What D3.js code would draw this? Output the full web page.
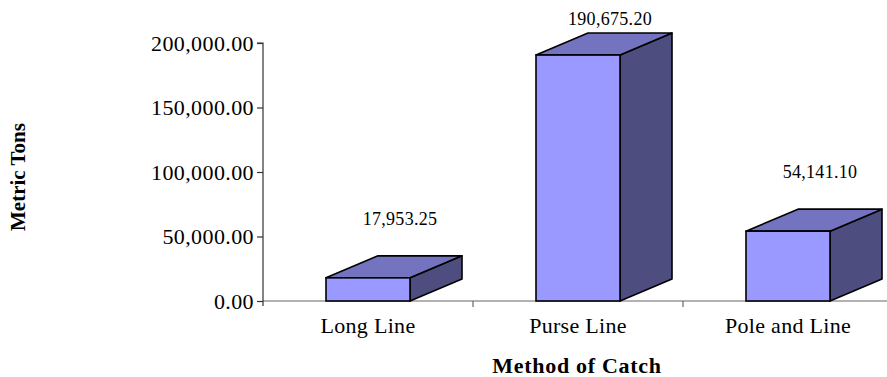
<!DOCTYPE html>
<html>
<head>
<meta charset="utf-8">
<script src="https://cdn.jsdelivr.net/npm/d3@7"></script>
<style>
  html, body { margin: 0; padding: 0; background: #fff; }
  svg { display: block; }
  text { font-family: "Liberation Serif", "Times New Roman", serif; fill: #000; }
</style>
</head>
<body>
<svg id="chart" width="887" height="377"></svg>
<script>
// Catch by method, metric tons
const categories = ["Long Line", "Purse Line", "Pole and Line"];
const catchTons = [17953.25, 190675.20, 54141.10];
const yTickValues = [0, 50000, 100000, 150000, 200000];

const W = 887, H = 377;
const svg = d3.select("#chart");

const x = d3.scaleBand().domain(categories).range([263, 893]).paddingInner(0).paddingOuter(0);
const y = d3.scaleLinear().domain([0, 200000]).range([301, 43]);
const fmt = d3.format(",.2f");

// 3D box geometry
const faceOff = x.bandwidth() * 0.3;
const faceW = x.bandwidth() * 0.4;
const dx = 52, dy = 22;

const colFront = "#9999ff", colTop = "#7373c0", colSide = "#4d4d80";

// Baseline across the plot
svg.append("line")
  .attr("x1", x.range()[0]).attr("x2", W)
  .attr("y1", y(0)).attr("y2", y(0))
  .attr("stroke", "#666").attr("stroke-width", 1.2);

// Category separators below the baseline
svg.append("g").selectAll("line")
  .data(categories)
  .join("line")
  .attr("x1", (d, i) => x(d) + x.bandwidth())
  .attr("x2", (d, i) => x(d) + x.bandwidth())
  .attr("y1", y(0)).attr("y2", y(0) + 6)
  .attr("stroke", "#666").attr("stroke-width", 1.2);

// Y axis
const yAxis = d3.axisLeft(y).tickValues(yTickValues).tickFormat(fmt).tickSize(6).tickPadding(3);
const gy = svg.append("g").attr("transform", `translate(${x.range()[0]},0)`).call(yAxis);
gy.select(".domain").attr("stroke", "#333").attr("stroke-width", 1.2).attr("d", `M-6,${y(200000)}H0V${y(0) + 5}`);
gy.selectAll(".tick line").attr("stroke", "#333").attr("stroke-width", 1.2);
gy.selectAll(".tick text")
  .attr("font-family", "Liberation Serif, Times New Roman, serif")
  .attr("font-size", 22).attr("letter-spacing", 0.4).attr("fill", "#000");

// Bars
const bars = svg.append("g").selectAll("g")
  .data(categories.map((c, i) => ({ c, v: catchTons[i] })))
  .join("g");

bars.each(function(d) {
  const g = d3.select(this);
  const x0 = x(d.c) + faceOff, x1 = x0 + faceW;
  const yt = y(d.v), yb = y(0);
  // side face
  g.append("path")
    .attr("d", `M${x1},${yb}L${x1 + dx},${yb - dy}L${x1 + dx},${yt - dy}L${x1},${yt}Z`)
    .attr("fill", colSide).attr("stroke", "#000").attr("stroke-width", 1.6).attr("stroke-linejoin", "round");
  // top face
  g.append("path")
    .attr("d", `M${x0},${yt}L${x0 + dx},${yt - dy}L${x1 + dx},${yt - dy}L${x1},${yt}Z`)
    .attr("fill", colTop).attr("stroke", "#000").attr("stroke-width", 1.6).attr("stroke-linejoin", "round");
  // front face
  g.append("rect")
    .attr("x", x0).attr("y", yt).attr("width", faceW).attr("height", yb - yt)
    .attr("fill", colFront).attr("stroke", "#000").attr("stroke-width", 1.6);
  // value label
  g.append("text")
    .attr("x", (x0 + x1 + dx) / 2 + 6)
    .attr("y", Math.max(25, yt - dy - 31))
    .attr("text-anchor", "middle")
    .attr("font-size", 18).attr("letter-spacing", 0.3)
    .text(fmt(d.v));
});

// Category labels
svg.append("g").selectAll("text")
  .data(categories)
  .join("text")
  .attr("x", d => x(d) + x.bandwidth() / 2)
  .attr("y", 333)
  .attr("text-anchor", "middle")
  .attr("font-size", 22).attr("letter-spacing", 0.3)
  .text(d => d);

// Axis titles
svg.append("text")
  .attr("x", 577).attr("y", 373)
  .attr("text-anchor", "middle")
  .attr("font-size", 22).attr("font-weight", "bold").attr("letter-spacing", 0.7)
  .text("Method of Catch");

svg.append("text")
  .attr("transform", "translate(25,177) rotate(-90)")
  .attr("text-anchor", "middle")
  .attr("font-size", 21).attr("font-weight", "bold")
  .text("Metric Tons");
</script>
</body>
</html>
